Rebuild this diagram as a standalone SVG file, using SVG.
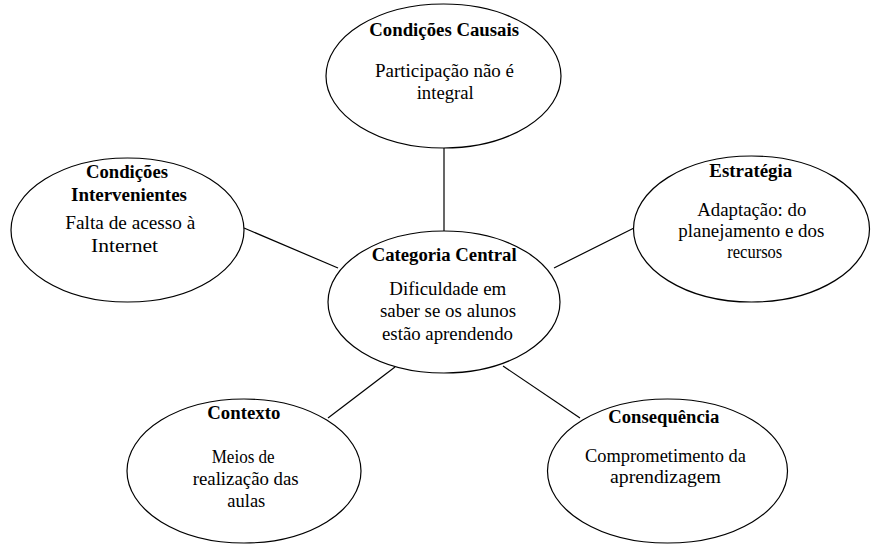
<svg xmlns="http://www.w3.org/2000/svg" width="890" height="556" viewBox="0 0 890 556">
<style>
.n{fill:#fff;stroke:#000;stroke-width:1.2}
.t{font-family:"Liberation Serif",Tinos,"Times New Roman",Times,"DejaVu Serif",serif;font-size:18px;fill:#000}
.b{font-weight:bold}
.c{stroke:#000;stroke-width:1.2;fill:none}
</style>
<rect width="890" height="556" fill="#fff"/>
<g id="connectors">
<line class="c" x1="444" y1="148" x2="444" y2="231"/>
<line class="c" x1="244" y1="228" x2="338" y2="268"/>
<line class="c" x1="554" y1="268" x2="634" y2="228"/>
<line class="c" x1="328" y1="418" x2="395" y2="367"/>
<line class="c" x1="503" y1="366" x2="580" y2="418"/>
</g>
<g id="causais">
<ellipse class="n" cx="443.5" cy="76" rx="117.5" ry="72"/>
<text class="t b" x="369.3" y="36" textLength="149.7" lengthAdjust="spacingAndGlyphs">Condições Causais</text>
<text class="t" x="375" y="77" textLength="139" lengthAdjust="spacingAndGlyphs">Participação não é</text>
<text class="t" x="416.7" y="99" textLength="57" lengthAdjust="spacingAndGlyphs">integral</text>
</g>
<g id="intervenientes">
<ellipse class="n" cx="127.5" cy="230" rx="116.5" ry="72"/>
<text class="t b" x="86" y="178" textLength="82" lengthAdjust="spacingAndGlyphs">Condições</text>
<text class="t b" x="71" y="201" textLength="116" lengthAdjust="spacingAndGlyphs">Intervenientes</text>
<text class="t" x="65.3" y="229" textLength="130" lengthAdjust="spacingAndGlyphs">Falta de acesso à</text>
<text class="t" x="91" y="252" textLength="67" lengthAdjust="spacingAndGlyphs">Internet</text>
</g>
<g id="central">
<ellipse class="n" cx="444" cy="302" rx="116" ry="71"/>
<text class="t b" x="371.7" y="261" textLength="145" lengthAdjust="spacingAndGlyphs">Categoria Central</text>
<text class="t" x="389.3" y="295" textLength="117" lengthAdjust="spacingAndGlyphs">Dificuldade em</text>
<text class="t" x="380" y="317" textLength="136" lengthAdjust="spacingAndGlyphs">saber se os alunos</text>
<text class="t" x="382" y="340" textLength="131" lengthAdjust="spacingAndGlyphs">estão aprendendo</text>
</g>
<g id="estrategia">
<ellipse class="n" cx="751.5" cy="229" rx="118" ry="73"/>
<text class="t b" x="709.3" y="177" textLength="83" lengthAdjust="spacingAndGlyphs">Estratégia</text>
<text class="t" x="697.3" y="216" textLength="109" lengthAdjust="spacingAndGlyphs">Adaptação: do</text>
<text class="t" x="678.3" y="237" textLength="146" lengthAdjust="spacingAndGlyphs">planejamento e dos</text>
<text class="t" x="727.3" y="258" textLength="55" lengthAdjust="spacingAndGlyphs">recursos</text>
</g>
<g id="contexto">
<ellipse class="n" cx="244" cy="471" rx="117" ry="72"/>
<text class="t b" x="207.3" y="419" textLength="73" lengthAdjust="spacingAndGlyphs">Contexto</text>
<text class="t" x="211.7" y="463" textLength="63" lengthAdjust="spacingAndGlyphs">Meios de</text>
<text class="t" x="192.7" y="485" textLength="106" lengthAdjust="spacingAndGlyphs">realização das</text>
<text class="t" x="227.3" y="507" textLength="38" lengthAdjust="spacingAndGlyphs">aulas</text>
</g>
<g id="consequencia">
<ellipse class="n" cx="667.5" cy="471" rx="120" ry="72"/>
<text class="t b" x="608.3" y="423" textLength="111" lengthAdjust="spacingAndGlyphs">Consequência</text>
<text class="t" x="585" y="462" textLength="161" lengthAdjust="spacingAndGlyphs">Comprometimento da</text>
<text class="t" x="610" y="483" textLength="111" lengthAdjust="spacingAndGlyphs">aprendizagem</text>
</g>
</svg>
